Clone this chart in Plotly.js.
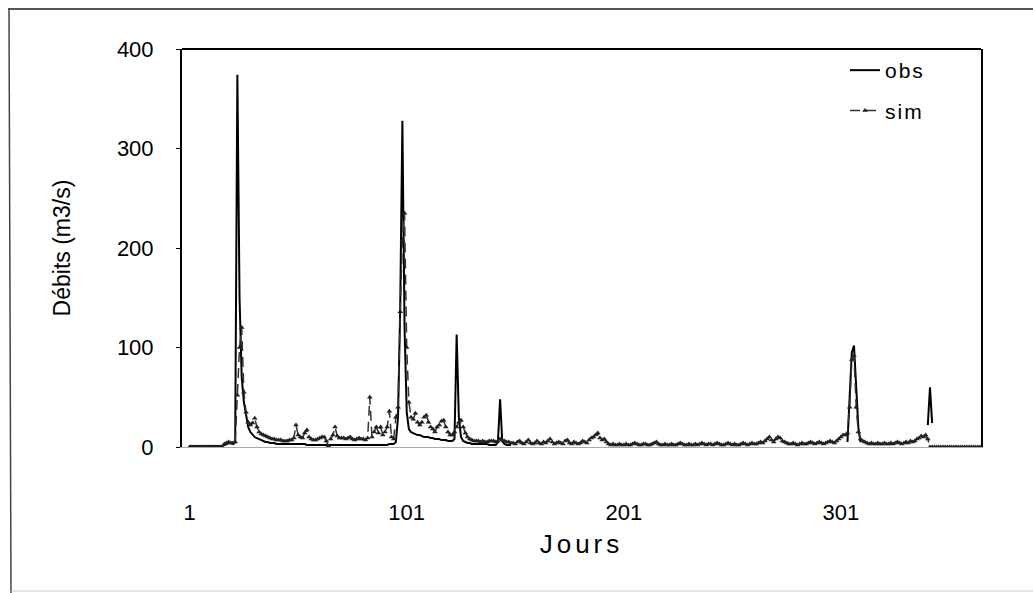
<!DOCTYPE html>
<html>
<head>
<meta charset="utf-8">
<script src="https://cdn.plot.ly/plotly-3.0.1.min.js"></script>
<style>
html,body{margin:0;padding:0;background:#fff;}
#chart{width:1033px;height:593px;}
.xtitle{letter-spacing:4px;}
.legendtext{letter-spacing:2px;}
</style>
</head>
<body>
<div id="chart"></div>
<script>
// Days 1..365
const days = Array.from({length: 365}, (_, i) => i + 1);

const tickVals = [1, 101, 201, 301];
const tickLabels = ["1", "101", "201", "301"];

const obs = [
  1,1,1,1,1,1,1,1,1,1,
  1,1,1,1,1,1,2,3,4,4,
  3,5,374,150,70,45,30,20,15,12,
  10,9,8,7,6,5,5,4,4,4,
  3,3,3,3,3,3,3,3,3,3,
  3,3,3,3,2,2,2,2,2,2,
  2,2,2,2,2,2,2,2,2,2,
  2,2,2,2,2,2,2,2,2,2,
  2,2,2,2,2,2,2,2,2,2,
  2,2,3,3,3,5,30,140,328,120,
  35,18,15,14,13,12,12,11,10,10,
  10,9,9,8,8,8,7,7,7,6,
  6,6,8,113,30,10,6,5,4,4,
  3,3,3,3,3,3,3,3,2,2,
  2,2,5,48,6,3,2,2,2,null,
  null,null,null,null,null,null,null,null,null,null,
  null,null,null,null,null,null,null,null,null,null,
  null,null,null,null,null,null,null,null,null,null,
  null,null,null,null,null,null,null,null,null,null,
  null,null,null,null,null,null,null,null,null,null,
  null,null,null,null,null,null,null,null,null,null,
  null,null,null,null,null,null,null,null,null,null,
  null,null,null,null,null,null,null,null,null,null,
  null,null,null,null,null,null,null,null,null,null,
  null,null,null,null,null,null,null,null,null,null,
  null,null,null,null,null,null,null,null,null,null,
  null,null,null,null,null,null,null,null,null,null,
  null,null,null,null,null,null,null,null,null,null,
  null,null,null,null,null,null,null,null,null,null,
  null,null,null,null,null,null,null,null,null,null,
  null,null,null,5,50,95,102,60,20,5,
  null,null,null,null,null,null,null,null,null,null,
  null,null,null,null,null,null,null,null,null,null,
  null,null,null,null,null,null,null,null,null,null,
  22,60,24,null,null,null,null,null,null,null,
  null,null,null,null,null,null,null,null,null,null,
  null,null,null,null,null
];

const sim = [
  0,0,0,0,0,0,0,0,0,0,
  0,0,0,0,0,0,3,4,5,4,
  4,5,52,100,120,55,35,25,22,24,
  29,20,15,13,12,11,10,9,8,8,
  7,7,7,6,6,6,7,7,9,22,
  12,10,9,14,17,10,8,7,7,8,
  9,10,10,6,1,8,12,20,11,9,
  9,9,8,9,10,8,7,8,9,8,
  8,7,9,50,10,15,20,14,20,12,
  15,20,36,10,8,30,40,136,208,235,
  100,45,30,28,34,25,22,25,30,32,
  25,20,18,15,20,22,26,27,20,15,
  12,12,15,20,25,27,20,14,10,8,
  7,6,6,6,5,6,5,5,6,6,
  6,5,6,8,7,6,5,5,4,4,
  3,5,6,4,3,5,7,4,3,4,
  6,4,3,5,4,6,8,5,3,4,
  5,4,3,6,7,4,3,5,4,3,
  4,6,5,4,7,9,10,12,14,9,
  7,8,5,3,2,3,2,2,3,2,
  2,3,2,2,3,4,3,2,2,3,
  3,2,2,3,4,5,3,2,2,3,
  2,2,3,2,2,3,4,3,2,2,
  3,2,2,3,2,3,4,3,2,3,
  3,2,3,4,3,2,2,3,4,3,
  2,3,2,2,3,4,3,2,3,4,
  3,3,4,5,4,6,8,10,7,5,
  8,10,9,6,5,4,3,3,4,3,
  2,3,4,3,3,4,5,4,3,4,
  5,4,3,4,5,6,5,4,6,8,
  10,12,12,14,40,88,92,40,15,8,
  6,5,4,3,4,3,3,4,3,3,
  4,3,3,4,3,4,5,4,3,4,
  5,4,6,5,6,8,9,11,10,12,
  8,0,0,0,0,0,0,0,0,0,
  0,0,0,0,0,0,0,0,0,0,
  0,0,0,0,0
];

const FONT = 'Arial, "Liberation Sans", sans-serif';

const traces = [
  {
    x: days, y: obs, name: 'obs', type: 'scatter', mode: 'lines',
    line: {color: '#000', width: 2}, connectgaps: false,
    legendgroup: 'a'
  },
  {
    x: days, y: sim, name: 'sim', type: 'scatter', mode: 'lines+markers',
    line: {color: '#333', width: 1.5, dash: '10px,6px'},
    marker: {symbol: 'triangle-up', size: 5, color: '#222'},
    legendgroup: 'b'
  }
];

const L = 182, R = 981, T = 49, B = 447;
const px2x = p => (p - L) / (R - L);
const px2y = p => (B - p) / (B - T);

const layout = {
  width: 1033, height: 593,
  margin: {l: L, r: 1033 - R, t: T, b: 593 - B, pad: 0},
  paper_bgcolor: '#fff', plot_bgcolor: '#fff',
  font: {family: FONT, color: '#000', size: 19},
  showlegend: true,
  legend: {
    x: px2x(845), y: px2y(50), xanchor: 'left', yanchor: 'top',
    bgcolor: 'rgba(0,0,0,0)', borderwidth: 0,
    font: {family: FONT, size: 21, color: '#000'},
    tracegroupgap: 10, traceorder: 'grouped'
  },
  xaxis: {
    range: [-2.5, 365.5],
    tickmode: 'array', tickvals: tickVals, ticktext: tickLabels,
    ticks: '', showgrid: false, zeroline: false,
    showline: true, linecolor: '#aaa', linewidth: 1,
    ticklabelstandoff: 46,
    tickfont: {family: FONT, size: 22},
    title: {text: 'Jours', font: {family: FONT, size: 26}, standoff: 10}
  },
  yaxis: {
    range: [0, 400],
    tickvals: [0, 100, 200, 300, 400],
    ticks: 'outside', ticklen: 4, tickcolor: '#000',
    showgrid: false, zeroline: false,
    showline: true, mirror: true, linecolor: '#000', linewidth: 2,
    ticklabelstandoff: 18,
    tickfont: {family: FONT, size: 22},
    title: {text: 'Débits (m3/s)', font: {family: FONT, size: 23}, standoff: 40}
  },
  shapes: [
    {type: 'line', xref: 'paper', yref: 'paper', x0: 0, x1: 1, y0: 1, y1: 1,
     line: {color: '#000', width: 2}},
    {type: 'line', xref: 'paper', yref: 'paper', x0: px2x(8), x1: px2x(1033), y0: px2y(9), y1: px2y(9),
     line: {color: '#555', width: 2}},
    {type: 'line', xref: 'paper', yref: 'paper', x0: px2x(9), x1: px2x(11), y0: px2y(9), y1: px2y(593),
     line: {color: '#444', width: 1.5}},
    {type: 'line', xref: 'paper', yref: 'paper', x0: px2x(11), x1: px2x(1033), y0: px2y(591), y1: px2y(591),
     line: {color: '#ccc', width: 1}}
  ]
};

Plotly.newPlot('chart', traces, layout, {staticPlot: true, displayModeBar: false});
</script>
</body>
</html>
